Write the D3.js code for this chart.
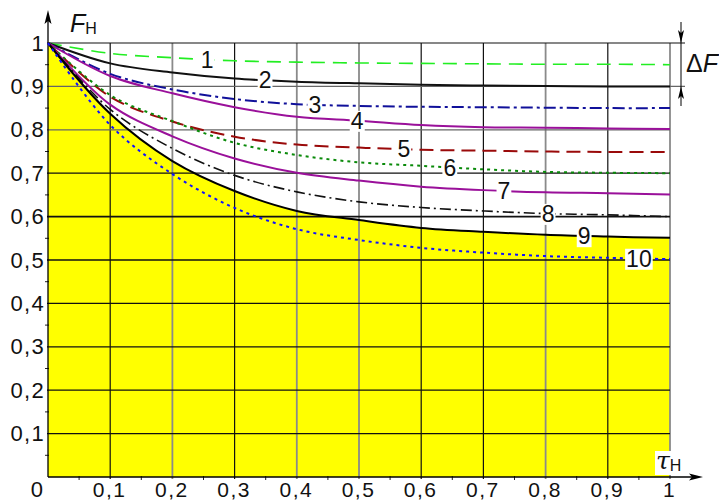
<!DOCTYPE html>
<html>
<head>
<meta charset="utf-8">
<script src="https://cdn.jsdelivr.net/npm/d3@7"></script>
<style>
  html, body { margin: 0; padding: 0; background: #fff; }
  svg { display: block; font-family: Arial, "Liberation Sans", sans-serif; }
</style>
</head>
<body>
<svg id="chart" width="719" height="503"></svg>
<script>
const tau = [0, 0.1, 0.2, 0.3, 0.4, 0.5, 0.6, 0.7, 0.8, 0.9, 1];

// F_H for curves 1..10
const F1  = [1, 0.976, 0.966, 0.959, 0.956, 0.954, 0.953, 0.952, 0.951, 0.951, 0.950];
const F2  = [1, 0.953, 0.932, 0.918, 0.911, 0.907, 0.904, 0.902, 0.901, 0.900, 0.900];
const F3  = [1, 0.929, 0.893, 0.871, 0.859, 0.855, 0.853, 0.852, 0.851, 0.850, 0.850];
const F4  = [1, 0.924, 0.884, 0.852, 0.830, 0.821, 0.811, 0.806, 0.805, 0.803, 0.802];
const F5  = [1, 0.876, 0.819, 0.784, 0.766, 0.759, 0.754, 0.752, 0.750, 0.749, 0.749];
const F6  = [1, 0.880, 0.820, 0.770, 0.742, 0.725, 0.717, 0.709, 0.703, 0.701, 0.700];
const F7  = [1, 0.858, 0.785, 0.734, 0.701, 0.683, 0.669, 0.661, 0.656, 0.654, 0.651];
const F8  = [1, 0.847, 0.757, 0.695, 0.657, 0.634, 0.621, 0.613, 0.607, 0.604, 0.600];
const F9  = [1, 0.837, 0.728, 0.659, 0.613, 0.592, 0.574, 0.565, 0.558, 0.554, 0.551];
const F10 = [1, 0.811, 0.698, 0.620, 0.571, 0.546, 0.528, 0.517, 0.509, 0.505, 0.502];

const curveNames = ['1', '2', '3', '4', '5', '6', '7', '8', '9', '10'];
// where along tau each number sits on its curve
const labelTau = [0.256, 0.349, 0.429, 0.497, 0.572, 0.646, 0.733, 0.804, 0.862, 0.95];

const xTicks = [0.1, 0.2, 0.3, 0.4, 0.5, 0.6, 0.7, 0.8, 0.9, 1];
const yTicks = [0.1, 0.2, 0.3, 0.4, 0.5, 0.6, 0.7, 0.8, 0.9, 1];

// line looks
const styles = [
  { color: '#22ee22', width: 1.6, dash: '14,8' },
  { color: '#111111', width: 2,   dash: null },
  { color: '#10109a', width: 2,   dash: '12,4,3,4' },
  { color: '#9a109a', width: 2,   dash: null },
  { color: '#9a0a0a', width: 2,   dash: '14,7' },
  { color: '#0a8a0a', width: 2,   dash: '3,4' },
  { color: '#9a109a', width: 2,   dash: null },
  { color: '#111111', width: 1.6, dash: '11,4,2,4' },
  { color: '#000000', width: 2,   dash: null },
  { color: '#1010ff', width: 2,   dash: '3,4' }
];
const series = [F1, F2, F3, F4, F5, F6, F7, F8, F9, F10];

const svg = d3.select('#chart');
const x = d3.scaleLinear().domain([0, 1]).range([48, 670]);
const y = d3.scaleLinear().domain([0, 1]).range([477, 43]);
const fmt = d => d === 1 ? '1' : d3.format('.1f')(d).replace('.', ',');
const smooth = d3.curveCatmullRom.alpha(0.5);

// yellow region under curve 9
const area = d3.area().curve(smooth)
  .x((d, i) => x(tau[i])).y0(y(0)).y1(d => y(d));
svg.append('path').attr('d', area(F9)).attr('fill', '#ffff00');

// grid
const grayX = [0.2, 0.4, 0.5, 0.8, 1];
xTicks.forEach(t => {
  const gray = grayX.some(g => Math.abs(g - t) < 1e-6);
  svg.append('line')
    .attr('x1', x(t)).attr('x2', x(t)).attr('y1', y(1)).attr('y2', y(0) + 2)
    .attr('stroke', gray ? '#8a8a8a' : '#111').attr('stroke-width', gray ? 1.8 : 1.2);
});
const heavyY = [0.5, 0.6];
const grayY = [0.8, 0.9];
yTicks.forEach(t => {
  const heavy = heavyY.some(g => Math.abs(g - t) < 1e-6);
  const gray = grayY.some(g => Math.abs(g - t) < 1e-6);
  const ext = (t === 1 || Math.abs(t - 0.9) < 1e-6) ? 685 : x(1);
  svg.append('line')
    .attr('x1', x(0) - 1).attr('x2', ext).attr('y1', y(t)).attr('y2', y(t))
    .attr('stroke', gray ? '#666' : '#111').attr('stroke-width', heavy ? 1.7 : 1.2);
});

// minor ticks
d3.range(0.05, 1, 0.1).forEach(t => {
  svg.append('line').attr('x1', x(t)).attr('x2', x(t)).attr('y1', y(0) - 1).attr('y2', y(0) + 3)
    .attr('stroke', '#222').attr('stroke-width', 1);
  svg.append('line').attr('x1', x(0) - 3).attr('x2', x(0) + 1).attr('y1', y(t)).attr('y2', y(t))
    .attr('stroke', '#222').attr('stroke-width', 1);
});

// axes lines + arrows
svg.append('line').attr('x1', x(0)).attr('x2', x(0)).attr('y1', y(0)).attr('y2', 16)
  .attr('stroke', '#000').attr('stroke-width', 1.3);
svg.append('path').attr('d', `M${x(0)},10 L${x(0) - 3.5},24 L${x(0)},21 L${x(0) + 3.5},24 Z`).attr('fill', '#000');
svg.append('line').attr('x1', x(0)).attr('x2', 696).attr('y1', y(0)).attr('y2', y(0))
  .attr('stroke', '#000').attr('stroke-width', 1.3);
svg.append('path').attr('d', `M703,${y(0)} L689,${y(0) - 3.5} L692,${y(0)} L689,${y(0) + 3.5} Z`).attr('fill', '#000');

// curves
const line = d3.line().curve(smooth).x((d, i) => x(tau[i])).y(d => y(d));
series.forEach((s, k) => {
  const st = styles[k];
  svg.append('path').attr('d', line(s))
    .attr('fill', 'none').attr('stroke', st.color).attr('stroke-width', st.width)
    .attr('stroke-dasharray', st.dash).attr('stroke-linejoin', 'round');
});

// curve numbers with white boxes
series.forEach((s, k) => {
  const t = labelTau[k];
  const v = d3.scaleLinear().domain(tau).range(s)(t);
  const g = svg.append('g');
  const txt = g.append('text')
    .attr('x', x(t)).attr('y', y(v)).attr('dy', '0.36em')
    .attr('text-anchor', 'middle').attr('font-size', 23).attr('fill', '#111')
    .text(curveNames[k]);
  const b = txt.node().getBBox();
  g.insert('rect', 'text')
    .attr('x', b.x - 1).attr('y', b.y + 3).attr('width', b.width + 2).attr('height', b.height - 5)
    .attr('fill', '#fff');
});

// tick labels
const yAxis = d3.axisLeft(y).tickValues(yTicks).tickSize(0).tickPadding(6).tickFormat(fmt);
const ya = svg.append('g').attr('transform', `translate(${x(0)},0)`).call(yAxis);
ya.select('.domain').remove();
ya.selectAll('text').attr('font-size', 22).attr('font-family', 'Arial, "Liberation Sans", sans-serif')
  .attr('fill', '#111').attr('letter-spacing', 1.3).attr('dx', 3);

const xAxis = d3.axisBottom(x).tickValues(xTicks).tickSize(0).tickPadding(5).tickFormat(fmt);
const xa = svg.append('g').attr('transform', `translate(0,${y(0)})`).call(xAxis);
xa.select('.domain').remove();
xa.selectAll('text').attr('font-size', 21).attr('font-family', 'Arial, "Liberation Sans", sans-serif')
  .attr('fill', '#111').attr('letter-spacing', 1.5).attr('dx', -1);

svg.append('text').attr('x', 43).attr('y', 497).attr('text-anchor', 'end')
  .attr('font-size', 22).attr('fill', '#111').text('0');

// axis titles
const fT = svg.append('text').attr('x', 70).attr('y', 32).attr('font-size', 25).attr('fill', '#111');
fT.append('tspan').attr('font-style', 'italic').text('F');
fT.append('tspan').attr('font-size', 16).attr('dy', 2).text('Н');

svg.append('rect').attr('x', 655).attr('y', 451).attr('width', 28).attr('height', 24).attr('fill', '#fff');
const tT = svg.append('text').attr('x', 656).attr('y', 469).attr('font-size', 25).attr('fill', '#111');
tT.append('tspan').attr('font-style', 'italic').attr('font-family', '"DejaVu Serif", serif').text('τ');
tT.append('tspan').attr('font-size', 16).attr('dy', 2).text('Н');

// delta F dimension
svg.append('line').attr('x1', 681).attr('x2', 681).attr('y1', 22).attr('y2', 106)
  .attr('stroke', '#000').attr('stroke-width', 1);
svg.append('path').attr('d', `M681,${y(1)} L678,30 L681,33 L684,30 Z`).attr('fill', '#000');
svg.append('path').attr('d', `M681,${y(0.9)} L678,99 L681,96 L684,99 Z`).attr('fill', '#000');
const dT = svg.append('text').attr('x', 686).attr('y', 72).attr('font-size', 25).attr('fill', '#111');
dT.append('tspan').text('Δ');
dT.append('tspan').attr('font-style', 'italic').text('F');
</script>
</body>
</html>
